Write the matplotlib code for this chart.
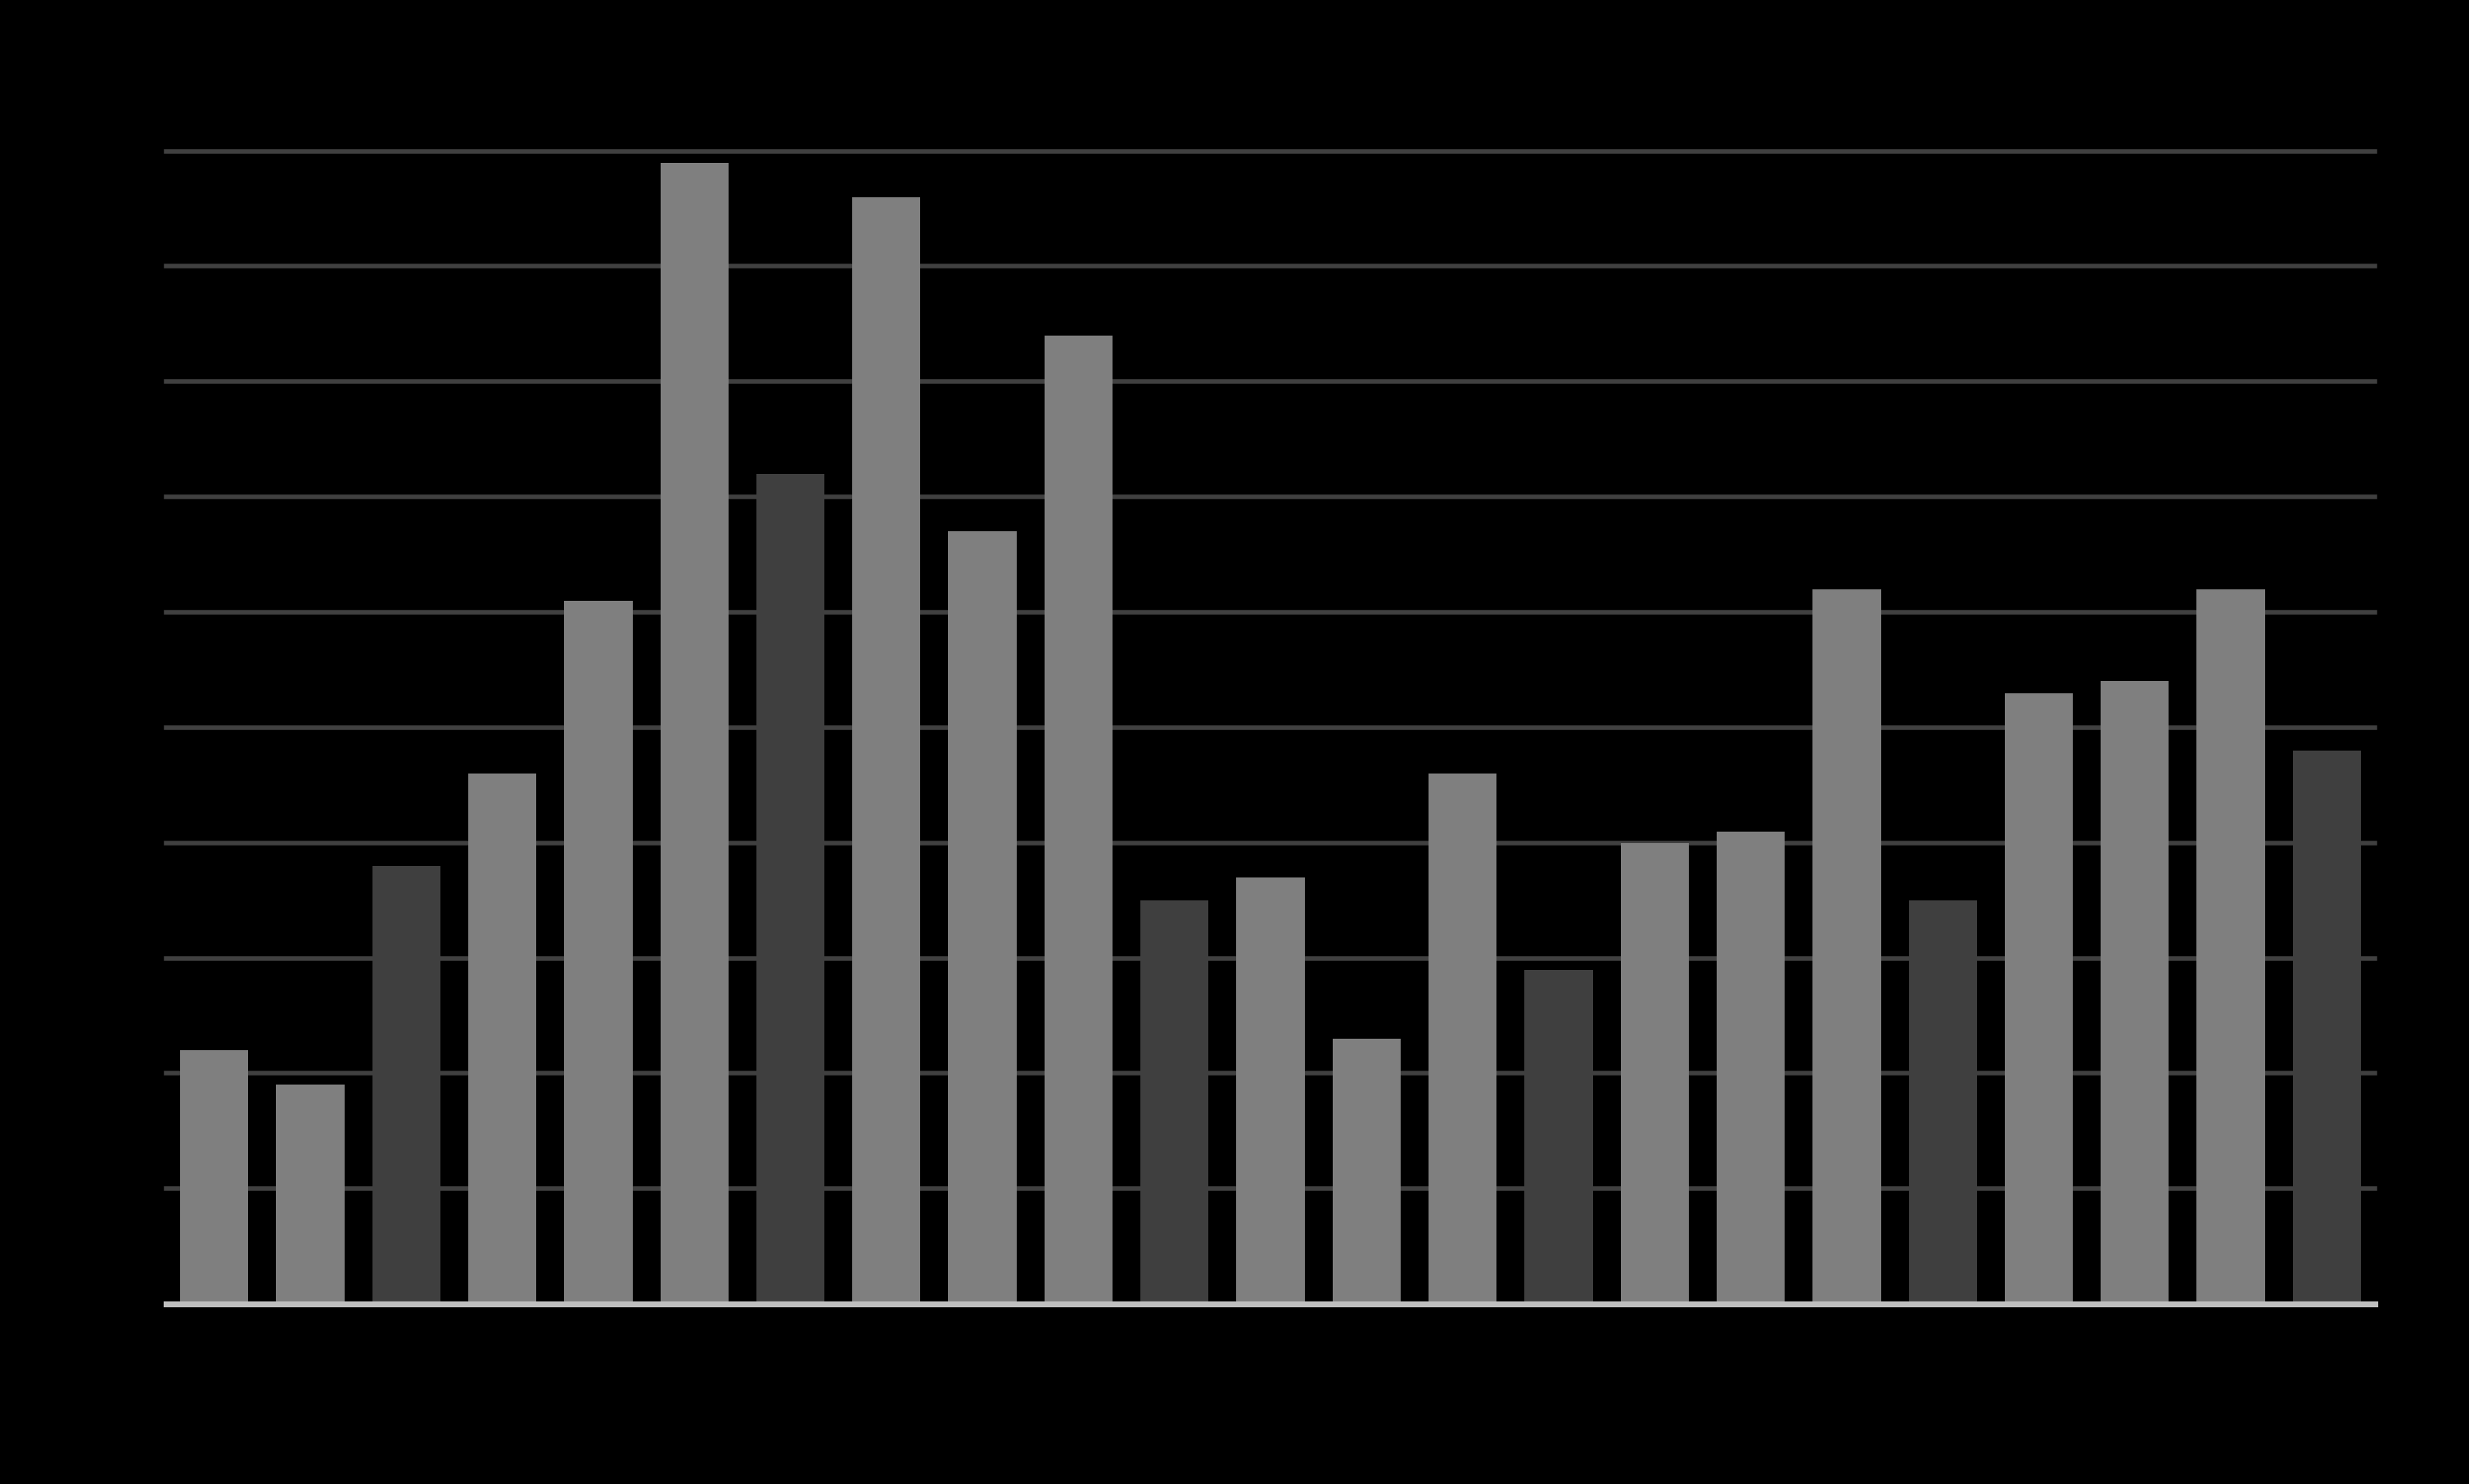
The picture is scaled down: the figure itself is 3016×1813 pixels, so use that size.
import matplotlib
matplotlib.use("Agg")
import matplotlib.pyplot as plt
import numpy as np


# Bar values (gridlines every 10, top at 100).
VALUES = [22, 19, 38, 46, 61, 99, 72, 96, 67, 84, 35, 37,
          23, 46, 29, 40, 41, 62, 35, 53, 54, 62, 48]
# True where the bar is drawn in the dark shade.
DARK = [False, False, True, False, False, False, True, False, False, False, True, False,
        False, False, True, False, False, False, True, False, False, False, True]
Y_MAX = 100
Y_STEP = 10

LIGHT_COLOR = "#7f7f7f"
DARK_COLOR = "#3f3f3f"
GRID_COLOR = "#404040"
BASE_COLOR = "#bfbfbf"

fig = plt.figure(figsize=(15.08, 9.065), dpi=200, facecolor="black")
ax = fig.add_axes([0.0673, 0.1213, 0.8946, 0.7769], facecolor="black")

x = np.arange(len(VALUES))
colors = [DARK_COLOR if dark else LIGHT_COLOR for dark in DARK]
ax.bar(x, VALUES, width=0.71, color=colors, zorder=3)

for y_val in np.arange(Y_STEP, Y_MAX + Y_STEP, Y_STEP):
    ax.axhline(y_val, color=GRID_COLOR, linewidth=2.0, zorder=1, clip_on=False)
ax.axhline(0, color=BASE_COLOR, linewidth=2.6, zorder=4, clip_on=False)

ax.set_xlim(-0.5, len(VALUES) - 0.5)
ax.set_ylim(0, Y_MAX)
ax.set_xticks([])
ax.set_yticks([])
for spine in ax.spines.values():
    spine.set_visible(False)

fig.savefig("out.png", dpi=200, facecolor="black")
